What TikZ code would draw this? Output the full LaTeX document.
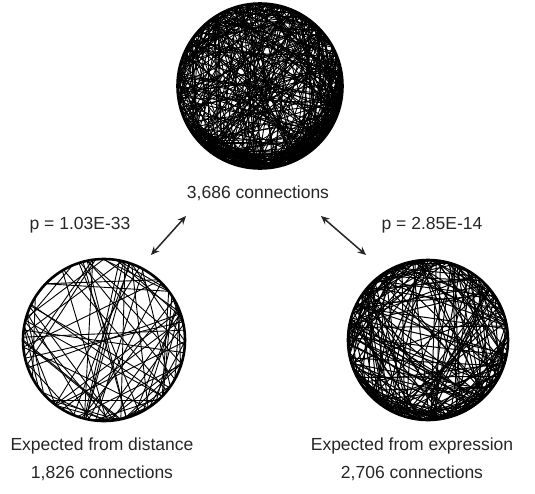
\documentclass[tikz,border=0pt]{standalone}
\usepackage{fontspec}
\setmainfont{Liberation Sans}
\usetikzlibrary{arrows.meta}
\begin{document}
\begin{tikzpicture}[x=1pt,y=-1pt,
  net/.style={circle, draw, line width=2.6pt, inner sep=0pt, outer sep=0pt, minimum size=#1},
  chord/.style={line width=0.9pt, line cap=round},
  lbl/.style={font=\fontsize{17.5}{28}\selectfont, align=center, text=black!85},
  biarrow/.style={{Stealth[length=8.5pt,width=7.5pt]}-{Stealth[length=8.5pt,width=7.5pt]}, line width=1.5pt, draw=black!85}]
\useasboundingbox (0,0) rectangle (535,493);
% networks
\node[net=165pt] (top) at (260,86) {};
\node[net=162pt] (left) at (104,340) {};
\node[net=160pt] (right) at (428,340) {};
\pgfmathsetseed{7}
\foreach \k in {1,...,380}{
  \pgfmathrandominteger{\ea}{0}{359}
  \pgfmathrandominteger{\eb}{0}{359}
  \draw[chord] (top.\ea) -- (top.\eb);
}
\foreach \k in {1,...,110}{
  \pgfmathrandominteger{\ea}{195}{345}
  \pgfmathrandominteger{\ed}{15}{70}
  \pgfmathtruncatemacro{\eb}{\ea+\ed}
  \draw[chord] (top.\ea) -- (top.\eb);
}
\foreach \k in {1,...,85}{
  \pgfmathrandominteger{\ea}{0}{359}
  \pgfmathrandominteger{\eb}{0}{359}
  \draw[chord] (left.\ea) -- (left.\eb);
}
\foreach \k in {1,...,225}{
  \pgfmathrandominteger{\ea}{0}{359}
  \pgfmathrandominteger{\eb}{0}{359}
  \draw[chord, line width=1pt] (right.\ea) -- (right.\eb);
}
\foreach \k in {1,...,35}{
  \pgfmathrandominteger{\ea}{200}{340}
  \pgfmathrandominteger{\ed}{15}{60}
  \pgfmathtruncatemacro{\eb}{\ea+\ed}
  \draw[chord, line width=1pt] (right.\ea) -- (right.\eb);
}
% labels
\node[lbl] (ltop) at (258,193) {3,686 connections};
\node[lbl] (pl) at (80,225) {p = 1.03E-33};
\node[lbl] (pr) at (432,225) {p = 2.85E-14};
\node[lbl] (lleft) at (102,459) {Expected from distance\\1,826 connections};
\node[lbl] (lright) at (412,459) {Expected from expression\\2,706 connections};
% arrows
\coordinate (a1) at (151,255);
\coordinate (a2) at (186,216);
\coordinate (b1) at (321,216);
\coordinate (b2) at (366,255);
\draw[biarrow] (a1) -- (a2);
\draw[biarrow] (b1) -- (b2);
\end{tikzpicture}
\end{document}
